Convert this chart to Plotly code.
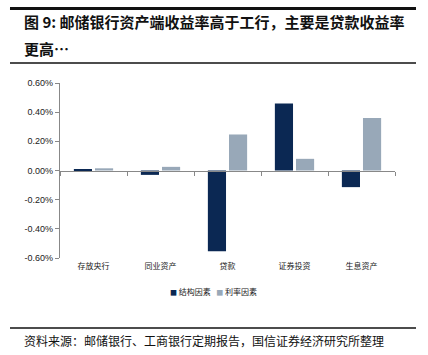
import plotly.graph_objects as go

categories = ["存放央行", "同业资产", "贷款", "证券投资", "生息资产"]
structure_factor = [0.008, -0.030, -0.553, 0.460, -0.114]   # 结构因素 (%)
rate_factor = [0.015, 0.025, 0.247, 0.080, 0.360]            # 利率因素 (%)
y_ticks = [0.6, 0.4, 0.2, 0.0, -0.2, -0.4, -0.6]
y_tick_labels = ["0.60%", "0.40%", "0.20%", "0.00%", "-0.20%", "-0.40%", "-0.60%"]
series_names = ["结构因素", "利率因素"]

DARK = "#0B2853"
LIGHT = "#98A8B8"
CJK = "Noto Sans CJK SC"

fig = go.Figure()
fig.add_trace(go.Bar(x=categories, y=structure_factor, name=series_names[0],
                     marker=dict(color=DARK, line=dict(width=0)), showlegend=False))
fig.add_trace(go.Bar(x=categories, y=rate_factor, name=series_names[1],
                     marker=dict(color=LIGHT, line=dict(width=0)), showlegend=False))

fig.update_layout(
    width=428, height=355,
    margin=dict(l=60, r=33, t=83, b=97),
    paper_bgcolor="white", plot_bgcolor="white",
    barmode="group", bargap=0.37, bargroupgap=0.14,
    font=dict(family=CJK, size=8, color="#222"),
    xaxis=dict(type="category", categoryarray=categories, anchor="free", position=0.5,
               showline=True, linecolor="#888", linewidth=1.2,
               ticks="outside", tickson="boundaries", ticklen=4, tickcolor="#888",
               ticklabelstandoff=88,
               tickfont=dict(family=CJK, size=8, color="#222"),
               showgrid=False, zeroline=False),
    yaxis=dict(range=[-0.6, 0.6], tickvals=y_ticks, ticktext=y_tick_labels,
               showline=True, linecolor="#888", linewidth=1.2,
               ticks="outside", ticklen=4, tickcolor="#888",
               tickfont=dict(family="Liberation Sans, Arial", size=9, color="#222"),
               showgrid=False, zeroline=False),
    showlegend=False,
)

# legend row
legend_text = (f"<span style='color:{DARK};font-size:7px'>■</span> {series_names[0]}"
               f"&nbsp;&nbsp;&nbsp;<span style='color:{LIGHT};font-size:7px'>■</span> {series_names[1]}")
fig.add_annotation(text=legend_text, xref="paper", yref="paper", x=0.457, y=-0.194,
                   xanchor="center", yanchor="middle", showarrow=False,
                   font=dict(family=CJK, size=8, color="#222"))

# horizontal rules
fig.add_shape(type="line", xref="paper", yref="paper", x0=-0.1493, x1=1.0627,
              y0=1.4229, y1=1.4229, line=dict(color="#111", width=2), layer="above")
fig.add_annotation(text="&nbsp;", xref="paper", yref="paper", x=0.4567, y=1.4229,
                   xanchor="center", yanchor="middle", showarrow=False,
                   width=404, height=1, borderpad=0, borderwidth=1,
                   bordercolor="#111", bgcolor="#111", font=dict(size=1))
fig.add_shape(type="line", xref="paper", yref="paper", x0=-0.1493, x1=1.0627,
              y0=1.1143, y1=1.1143, line=dict(color="#111", width=1.5))
fig.add_shape(type="line", xref="paper", yref="paper", x0=-0.1493, x1=1.0627,
              y0=-0.40, y1=-0.40, line=dict(color="#111", width=1.5))

fig.add_annotation(text="<b>图 9: 邮储银行资产端收益率高于工行，主要是贷款收益率</b>",
                   xref="paper", yref="paper", x=-0.1134, y=1.3486,
                   xanchor="left", yanchor="middle", showarrow=False,
                   font=dict(family=CJK, size=15, color="#111"))
fig.add_annotation(text="<b>更高…</b>",
                   xref="paper", yref="paper", x=-0.1134, y=1.20,
                   xanchor="left", yanchor="middle", showarrow=False,
                   font=dict(family=CJK, size=15, color="#111"))
fig.add_annotation(text="资料来源：邮储银行、工商银行定期报告，国信证券经济研究所整理",
                   xref="paper", yref="paper", x=-0.1134, y=-0.4686,
                   xanchor="left", yanchor="middle", showarrow=False,
                   font=dict(family=CJK, size=12, color="#111"))

fig.write_html("out.html", config={"displayModeBar": False},
               post_script="document.body.style.margin='0';document.body.style.overflow='hidden';")
